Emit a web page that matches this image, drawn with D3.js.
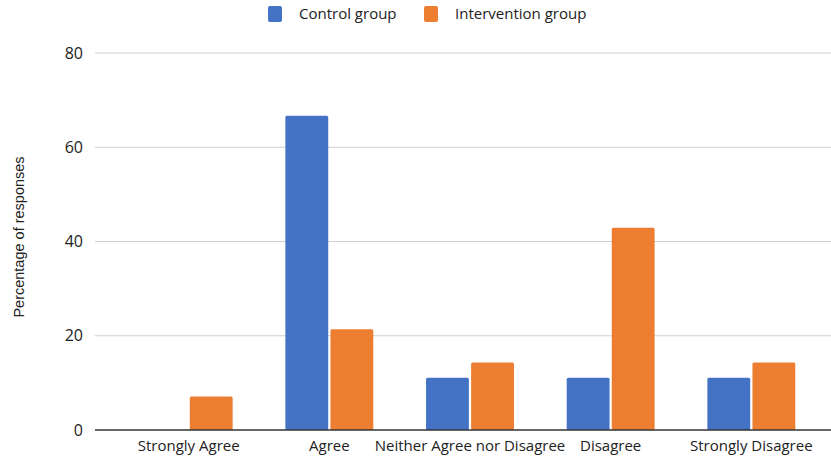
<!DOCTYPE html>
<html>
<head>
<meta charset="utf-8">
<script src="https://cdn.jsdelivr.net/npm/d3@7"></script>
<style>
  body { margin: 0; background: #fff; }
  text { font-family: "Open Sans", sans-serif; }
</style>
</head>
<body>
<div id="chart"></div>
<script>
// Data
const categories = ["Strongly Agree", "Agree", "Neither Agree nor Disagree", "Disagree", "Strongly Disagree"];
const seriesNames = ["Control group", "Intervention group"];
const controlValues = [0, 66.7, 11.1, 11.1, 11.1];
const interventionValues = [7.1, 21.4, 14.3, 42.9, 14.3];
const yTicks = [0, 20, 40, 60, 80];
const colors = ["#4472C4", "#ED7D31"];

const W = 831, H = 456;
const plot = {left: 95, right: 831, top: 53, bottom: 430};

const svg = d3.select("#chart").append("svg")
  .attr("width", W)
  .attr("height", H);

const rows = categories.map((c, i) => ({cat: c, values: [controlValues[i], interventionValues[i]]}));

// Scales
const x0 = d3.scaleBand()
  .domain(categories)
  .range([118, 822])
  .paddingInner(0.375)
  .paddingOuter(0.19);

const x1 = d3.scaleBand()
  .domain(seriesNames)
  .range([0, x0.bandwidth()])
  .paddingInner(0.05);

const y = d3.scaleLinear()
  .domain([0, 80])
  .range([plot.bottom, plot.top]);

// Gridlines
svg.append("g")
  .selectAll("line")
  .data(yTicks.filter(d => d > 0))
  .enter().append("line")
    .attr("x1", plot.left)
    .attr("x2", plot.right)
    .attr("y1", d => y(d))
    .attr("y2", d => y(d))
    .attr("stroke", "#d0d0d0")
    .attr("stroke-width", 1);

// Y axis labels
const yAxis = svg.append("g")
  .attr("transform", `translate(${plot.left},0)`)
  .call(d3.axisLeft(y).tickValues(yTicks).tickSize(0).tickPadding(12));
yAxis.select(".domain").remove();
yAxis.selectAll("text")
  .style("font-size", "16px")
  .style("fill", "#222");

// Bars
const groups = svg.append("g")
  .selectAll("g")
  .data(rows)
  .enter().append("g")
    .attr("transform", d => `translate(${x0(d.cat)},0)`);

groups.selectAll("rect")
  .data(d => d.values.map((v, i) => ({name: seriesNames[i], value: v, i: i})))
  .enter().append("rect")
    .attr("x", d => x1(d.name))
    .attr("y", d => y(d.value))
    .attr("width", x1.bandwidth())
    .attr("height", d => y(0) - y(d.value))
    .attr("rx", 1.5)
    .attr("fill", d => colors[d.i]);

// Baseline
svg.append("line")
  .attr("x1", plot.left)
  .attr("x2", plot.right)
  .attr("y1", y(0))
  .attr("y2", y(0))
  .attr("stroke", "#333")
  .attr("stroke-width", 1.5);

// X axis labels
const xAxis = svg.append("g")
  .attr("transform", `translate(0,${plot.bottom})`)
  .call(d3.axisBottom(x0).tickSize(0).tickPadding(10));
xAxis.select(".domain").remove();
xAxis.selectAll("text")
  .style("font-size", "15px")
  .style("fill", "#222");

// Y axis title
svg.append("text")
  .attr("transform", "translate(24,237) rotate(-90)")
  .attr("text-anchor", "middle")
  .style("font-family", "'Liberation Sans', Arial, sans-serif")
  .style("font-size", "14.5px")
  .style("fill", "#222")
  .text("Percentage of responses");

// Legend
const legend = svg.append("g");
const legendX = [268, 424];
seriesNames.forEach((name, i) => {
  legend.append("rect")
    .attr("x", legendX[i])
    .attr("y", 6)
    .attr("width", 14)
    .attr("height", 16)
    .attr("rx", 2)
    .attr("fill", colors[i]);
  legend.append("text")
    .attr("x", legendX[i] + 31)
    .attr("y", 19)
    .style("font-size", "15px")
    .style("fill", "#222")
    .text(name);
});
</script>
</body>
</html>
